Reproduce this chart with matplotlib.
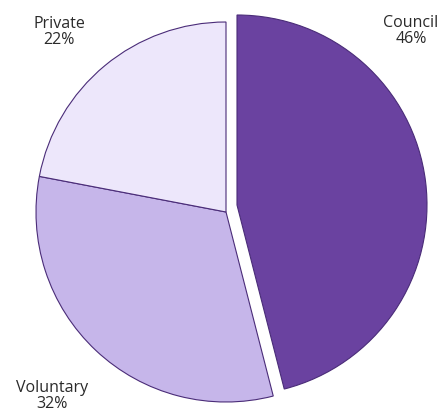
import matplotlib
matplotlib.use("Agg")
import matplotlib.pyplot as plt

sectors = ["Council", "Voluntary", "Private"]
shares = [46, 32, 22]
colors = ["#6a42a0", "#c6b6ea", "#ede7fb"]

plt.rcParams['font.family'] = ['Open Sans', 'DejaVu Sans']

fig = plt.figure(figsize=(4.43, 4.12), dpi=100)
ax = fig.add_axes([0, 0, 1, 1])

r = 190.0
cx, cy = 226.0, 212.0  # pie centre in pixels from top-left

wedges, _ = ax.pie(shares, colors=colors, startangle=90, counterclock=False,
                   radius=1.0, wedgeprops=dict(edgecolor="#4a2c78", linewidth=0.8))

# council slice pulled out up and to the right
wedges[0].set_center((11 / r, 7 / r))

ax.set_xlim(-cx / r, (443 - cx) / r)
ax.set_ylim(-(412 - cy) / r, cy / r)
ax.set_aspect('equal', adjustable='box')
ax.axis('off')

# label positions in pixels
label_pos = {"Council": (411, 31), "Private": (59, 32), "Voluntary": (52, 396)}
for name, val in zip(sectors, shares):
    px, py = label_pos[name]
    ax.text((px - cx) / r, (cy - py) / r, f"{name}\n{val}%", ha='center', va='center',
            fontsize=11.5, color="#2a2a2a", linespacing=1.0)

fig.savefig("out.png", dpi=100)
